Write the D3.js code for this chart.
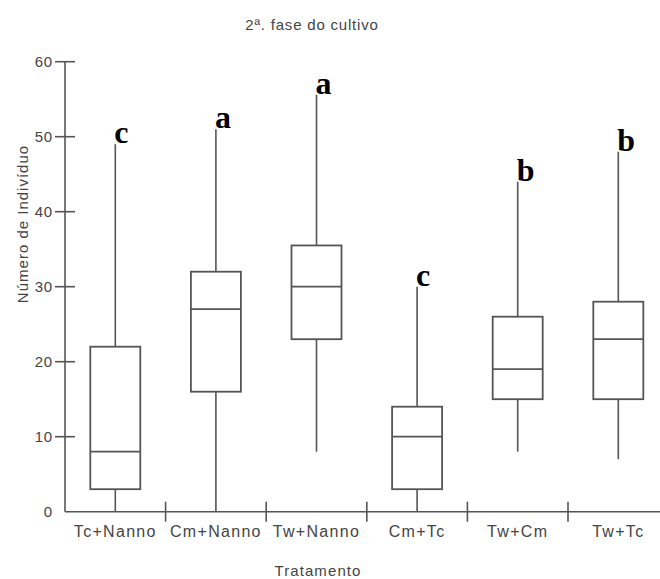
<!DOCTYPE html>
<html>
<head>
<meta charset="utf-8">
<script src="https://cdn.jsdelivr.net/npm/d3@7"></script>
<style>
  html, body { margin: 0; padding: 0; background: #fff; }
  svg { display: block; }
</style>
</head>
<body>
<svg id="chart" width="660" height="579"></svg>
<script>
// ---- data ----
const categories = ["Tc+Nanno", "Cm+Nanno", "Tw+Nanno", "Cm+Tc", "Tw+Cm", "Tw+Tc"];
const whiskerLow = [0, 0, 8, 0, 8, 7];
const q1Values   = [3, 16, 23, 3, 15, 15];
const medians    = [8, 27, 30, 10, 19, 23];
const q3Values   = [22, 32, 35.5, 14, 26, 28];
const whiskerHigh = [49, 51, 55.6, 30, 44, 48];
const groupLetters = ["c", "a", "a", "c", "b", "b"];
const yTicks = [0, 10, 20, 30, 40, 50, 60];
const titleText = "2ª. fase do cultivo";
const xTitle = "Tratamento";
const yTitle = "Número de Indivíduo";

// ---- layout ----
const svg = d3.select("#chart");
const axisColor = "#555";
const textColor = "#444";
const sans = "'Liberation Sans', Arial, sans-serif";

const x = d3.scaleBand().domain(categories).range([65, 668.6]).padding(0);
const y = d3.scaleLinear().domain([0, 60]).range([511.7, 61.7]);
const boxW = 50;

const rows = categories.map((c, i) => ({
  cat: c, lo: whiskerLow[i], q1: q1Values[i], med: medians[i],
  q3: q3Values[i], hi: whiskerHigh[i], letter: groupLetters[i]
}));

// title
svg.append("text")
  .attr("x", 312).attr("y", 30)
  .attr("text-anchor", "middle")
  .style("font-family", sans).style("font-size", "15px")
  .style("letter-spacing", "0.8px")
  .attr("fill", textColor)
  .text(titleText);

// y axis
const yAxisG = svg.append("g");
yAxisG.append("line")
  .attr("x1", 65).attr("x2", 65)
  .attr("y1", y(60)).attr("y2", y(0))
  .attr("stroke", axisColor).attr("stroke-width", 1.6);
yAxisG.selectAll("line.tick").data(yTicks.filter(d => d > 0)).join("line")
  .attr("class", "tick")
  .attr("x1", 55).attr("x2", 75)
  .attr("y1", d => y(d)).attr("y2", d => y(d))
  .attr("stroke", axisColor).attr("stroke-width", 1.6);
yAxisG.selectAll("text").data(yTicks).join("text")
  .attr("x", 53).attr("y", d => y(d))
  .attr("dy", "0.36em")
  .attr("text-anchor", "end")
  .style("font-family", sans).style("font-size", "15px")
  .style("letter-spacing", "0.8px")
  .attr("fill", textColor)
  .text(d => d);

// x axis
const xAxisG = svg.append("g");
xAxisG.append("line")
  .attr("x1", 65).attr("x2", x.range()[1])
  .attr("y1", y(0)).attr("y2", y(0))
  .attr("stroke", axisColor).attr("stroke-width", 1.6);
xAxisG.selectAll("line.tick").data(categories.slice(1)).join("line")
  .attr("class", "tick")
  .attr("x1", d => x(d)).attr("x2", d => x(d))
  .attr("y1", y(0) - 10).attr("y2", y(0) + 10)
  .attr("stroke", axisColor).attr("stroke-width", 1.6);
xAxisG.selectAll("text").data(categories).join("text")
  .attr("x", d => x(d) + x.bandwidth() / 2)
  .attr("y", 537)
  .attr("text-anchor", "middle")
  .style("font-family", sans).style("font-size", "16px")
  .style("letter-spacing", "1.3px")
  .attr("fill", textColor)
  .text(d => d);

// axis titles
svg.append("text")
  .attr("x", 318).attr("y", 576)
  .attr("text-anchor", "middle")
  .style("font-family", sans).style("font-size", "15px")
  .style("letter-spacing", "1.1px")
  .attr("fill", textColor)
  .text(xTitle);
svg.append("text")
  .attr("transform", "translate(27.5,224) rotate(-90)")
  .attr("text-anchor", "middle")
  .style("font-family", sans).style("font-size", "15px")
  .style("letter-spacing", "1px")
  .attr("fill", textColor)
  .text(yTitle);

// boxes
const g = svg.append("g").selectAll("g").data(rows).join("g");
const cx = d => x(d.cat) + x.bandwidth() / 2;
g.append("line") // lower whisker
  .attr("x1", cx).attr("x2", cx)
  .attr("y1", d => y(d.lo)).attr("y2", d => y(d.q1))
  .attr("stroke", axisColor).attr("stroke-width", 1.6);
g.append("line") // upper whisker
  .attr("x1", cx).attr("x2", cx)
  .attr("y1", d => y(d.q3)).attr("y2", d => y(d.hi))
  .attr("stroke", axisColor).attr("stroke-width", 1.6);
g.append("rect")
  .attr("x", d => cx(d) - boxW / 2)
  .attr("width", boxW)
  .attr("y", d => y(d.q3))
  .attr("height", d => y(d.q1) - y(d.q3))
  .attr("fill", "none")
  .attr("stroke", axisColor).attr("stroke-width", 1.8);
g.append("line") // median
  .attr("x1", d => cx(d) - boxW / 2).attr("x2", d => cx(d) + boxW / 2)
  .attr("y1", d => y(d.med)).attr("y2", d => y(d.med))
  .attr("stroke", axisColor).attr("stroke-width", 1.8);

// significance letters
g.append("text")
  .attr("x", d => cx(d) - 1)
  .attr("y", d => y(d.hi) - 1)
  .style("font-family", "'Liberation Serif', 'Times New Roman', serif")
  .style("font-weight", "bold")
  .style("font-size", "32px")
  .attr("fill", "#000")
  .text(d => d.letter);
</script>
</body>
</html>
